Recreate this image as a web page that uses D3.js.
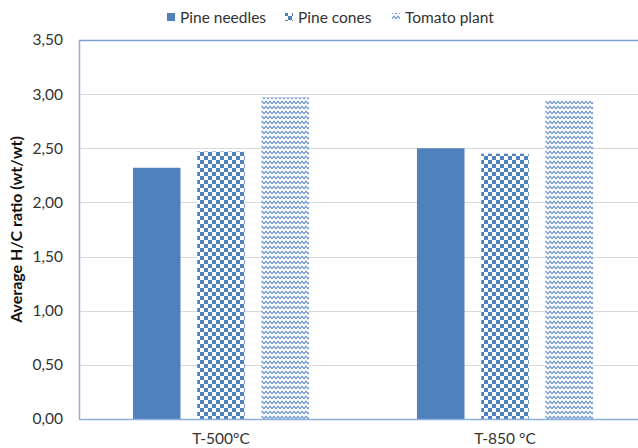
<!DOCTYPE html>
<html><head><meta charset="utf-8">
<script src="https://cdn.jsdelivr.net/npm/d3@7/dist/d3.min.js"></script>
<style>body{margin:0;background:#fff}svg{display:block;font-family:Lato,"Open Sans",sans-serif}</style>
</head><body><svg id="c" width="638" height="448"></svg>
<script>
const categories = ["T-500°C", "T-850 °C"];
const seriesNames = ["Pine needles", "Pine cones", "Tomato plant"];
const pineNeedles = [2.32, 2.50];
const pineCones = [2.47, 2.45];
const tomatoPlant = [2.97, 2.94];
const yTicks = [0, 0.5, 1, 1.5, 2, 2.5, 3, 3.5];
const yTitle = "Average H/C ratio (wt/wt)";

const series = [pineNeedles, pineCones, tomatoPlant];
const fills = ["#4f81bd", "url(#checker)", "url(#wave)"];
const svg = d3.select("#c");
const L = 79, R = 647, T = 40, B = 419;
const blue = "#4f81bd";

const defs = svg.append("defs");
const ch = defs.append("pattern").attr("id","checker").attr("patternUnits","userSpaceOnUse").attr("width",8).attr("height",8);
ch.append("rect").attr("width",8).attr("height",8).attr("fill","#fff");
ch.append("rect").attr("width",4).attr("height",4).attr("fill",blue);
ch.append("rect").attr("x",4).attr("y",4).attr("width",4).attr("height",4).attr("fill",blue);
const wv = defs.append("pattern").attr("id","wave").attr("patternUnits","userSpaceOnUse").attr("width",8).attr("height",5);
wv.append("rect").attr("width",8).attr("height",5).attr("fill","#fff");
wv.append("path").attr("d","M0,3.8 L2,1.2 L4,3.8 L6,1.2 L8,3.8").attr("fill","none").attr("stroke","#6a93cb").attr("stroke-width",1.2);

const y = d3.scaleLinear().domain([0,3.5]).range([B,T]);
const x0 = d3.scaleBand().domain(categories).range([L,R]).paddingInner(0.38).paddingOuter(0.19);
const x1 = d3.scaleBand().domain(d3.range(3)).range([0,x0.bandwidth()]).paddingInner(0.26);

// gridlines
svg.append("g").selectAll("line").data(yTicks.filter(d=>d>0 && d<3.5)).join("line")
  .attr("x1",L).attr("x2",R).attr("y1",d=>Math.round(y(d))+0.5).attr("y2",d=>Math.round(y(d))+0.5)
  .attr("stroke","#d9d9d9").attr("stroke-width",1);

// bars
categories.forEach((c,i)=>{
  series.forEach((s,j)=>{
    svg.append("rect").attr("x",x0(c)+x1(j)).attr("width",x1.bandwidth())
      .attr("y",y(s[i])).attr("height",B-y(s[i])).attr("fill",fills[j]);
  });
});

// axes
const yAxis = d3.axisLeft(y).tickValues(yTicks).tickSize(0).tickPadding(16).tickFormat(d=>d3.format(".2f")(d).replace(".",","));
const ga = svg.append("g").attr("transform",`translate(${L},0)`).call(yAxis);
ga.select(".domain").remove();
ga.selectAll("text").attr("font-size",15.5).attr("fill","#333").attr("font-family","Lato,sans-serif");
svg.append("line").attr("x1",L+0.5).attr("x2",L+0.5).attr("y1",T).attr("y2",B).attr("stroke","#8eaedb").attr("stroke-width",1.5);
svg.append("line").attr("x1",L).attr("x2",R).attr("y1",T+0.5).attr("y2",T+0.5).attr("stroke","#7d9fd3").attr("stroke-width",1.5);
svg.append("line").attr("x1",L).attr("x2",R).attr("y1",B+0.5).attr("y2",B+0.5).attr("stroke","#8eaedb").attr("stroke-width",1.5);

const xAxis = d3.axisBottom(x0).tickSize(0).tickPadding(14);
const gx = svg.append("g").attr("transform",`translate(0,${B})`).call(xAxis);
gx.select(".domain").remove();
gx.selectAll("text").attr("font-size",15.5).attr("fill","#333").attr("font-family","Lato,sans-serif");

// y title
svg.append("text").attr("transform",`translate(22,${(T+B)/2}) rotate(-90)`).attr("text-anchor","middle")
  .attr("font-size",16).attr("font-weight","bold").attr("fill","#111").text(yTitle);

// legend
const legX = [167, 285, 392];
const lg = svg.append("g");
seriesNames.forEach((n,j)=>{
  lg.append("rect").attr("x",legX[j]).attr("y",13).attr("width",8).attr("height",8).attr("fill",fills[j]);
  lg.append("text").attr("x",legX[j]+13).attr("y",22.5).attr("font-size",15.5).attr("fill","#333").text(n);
});
</script></body></html>
